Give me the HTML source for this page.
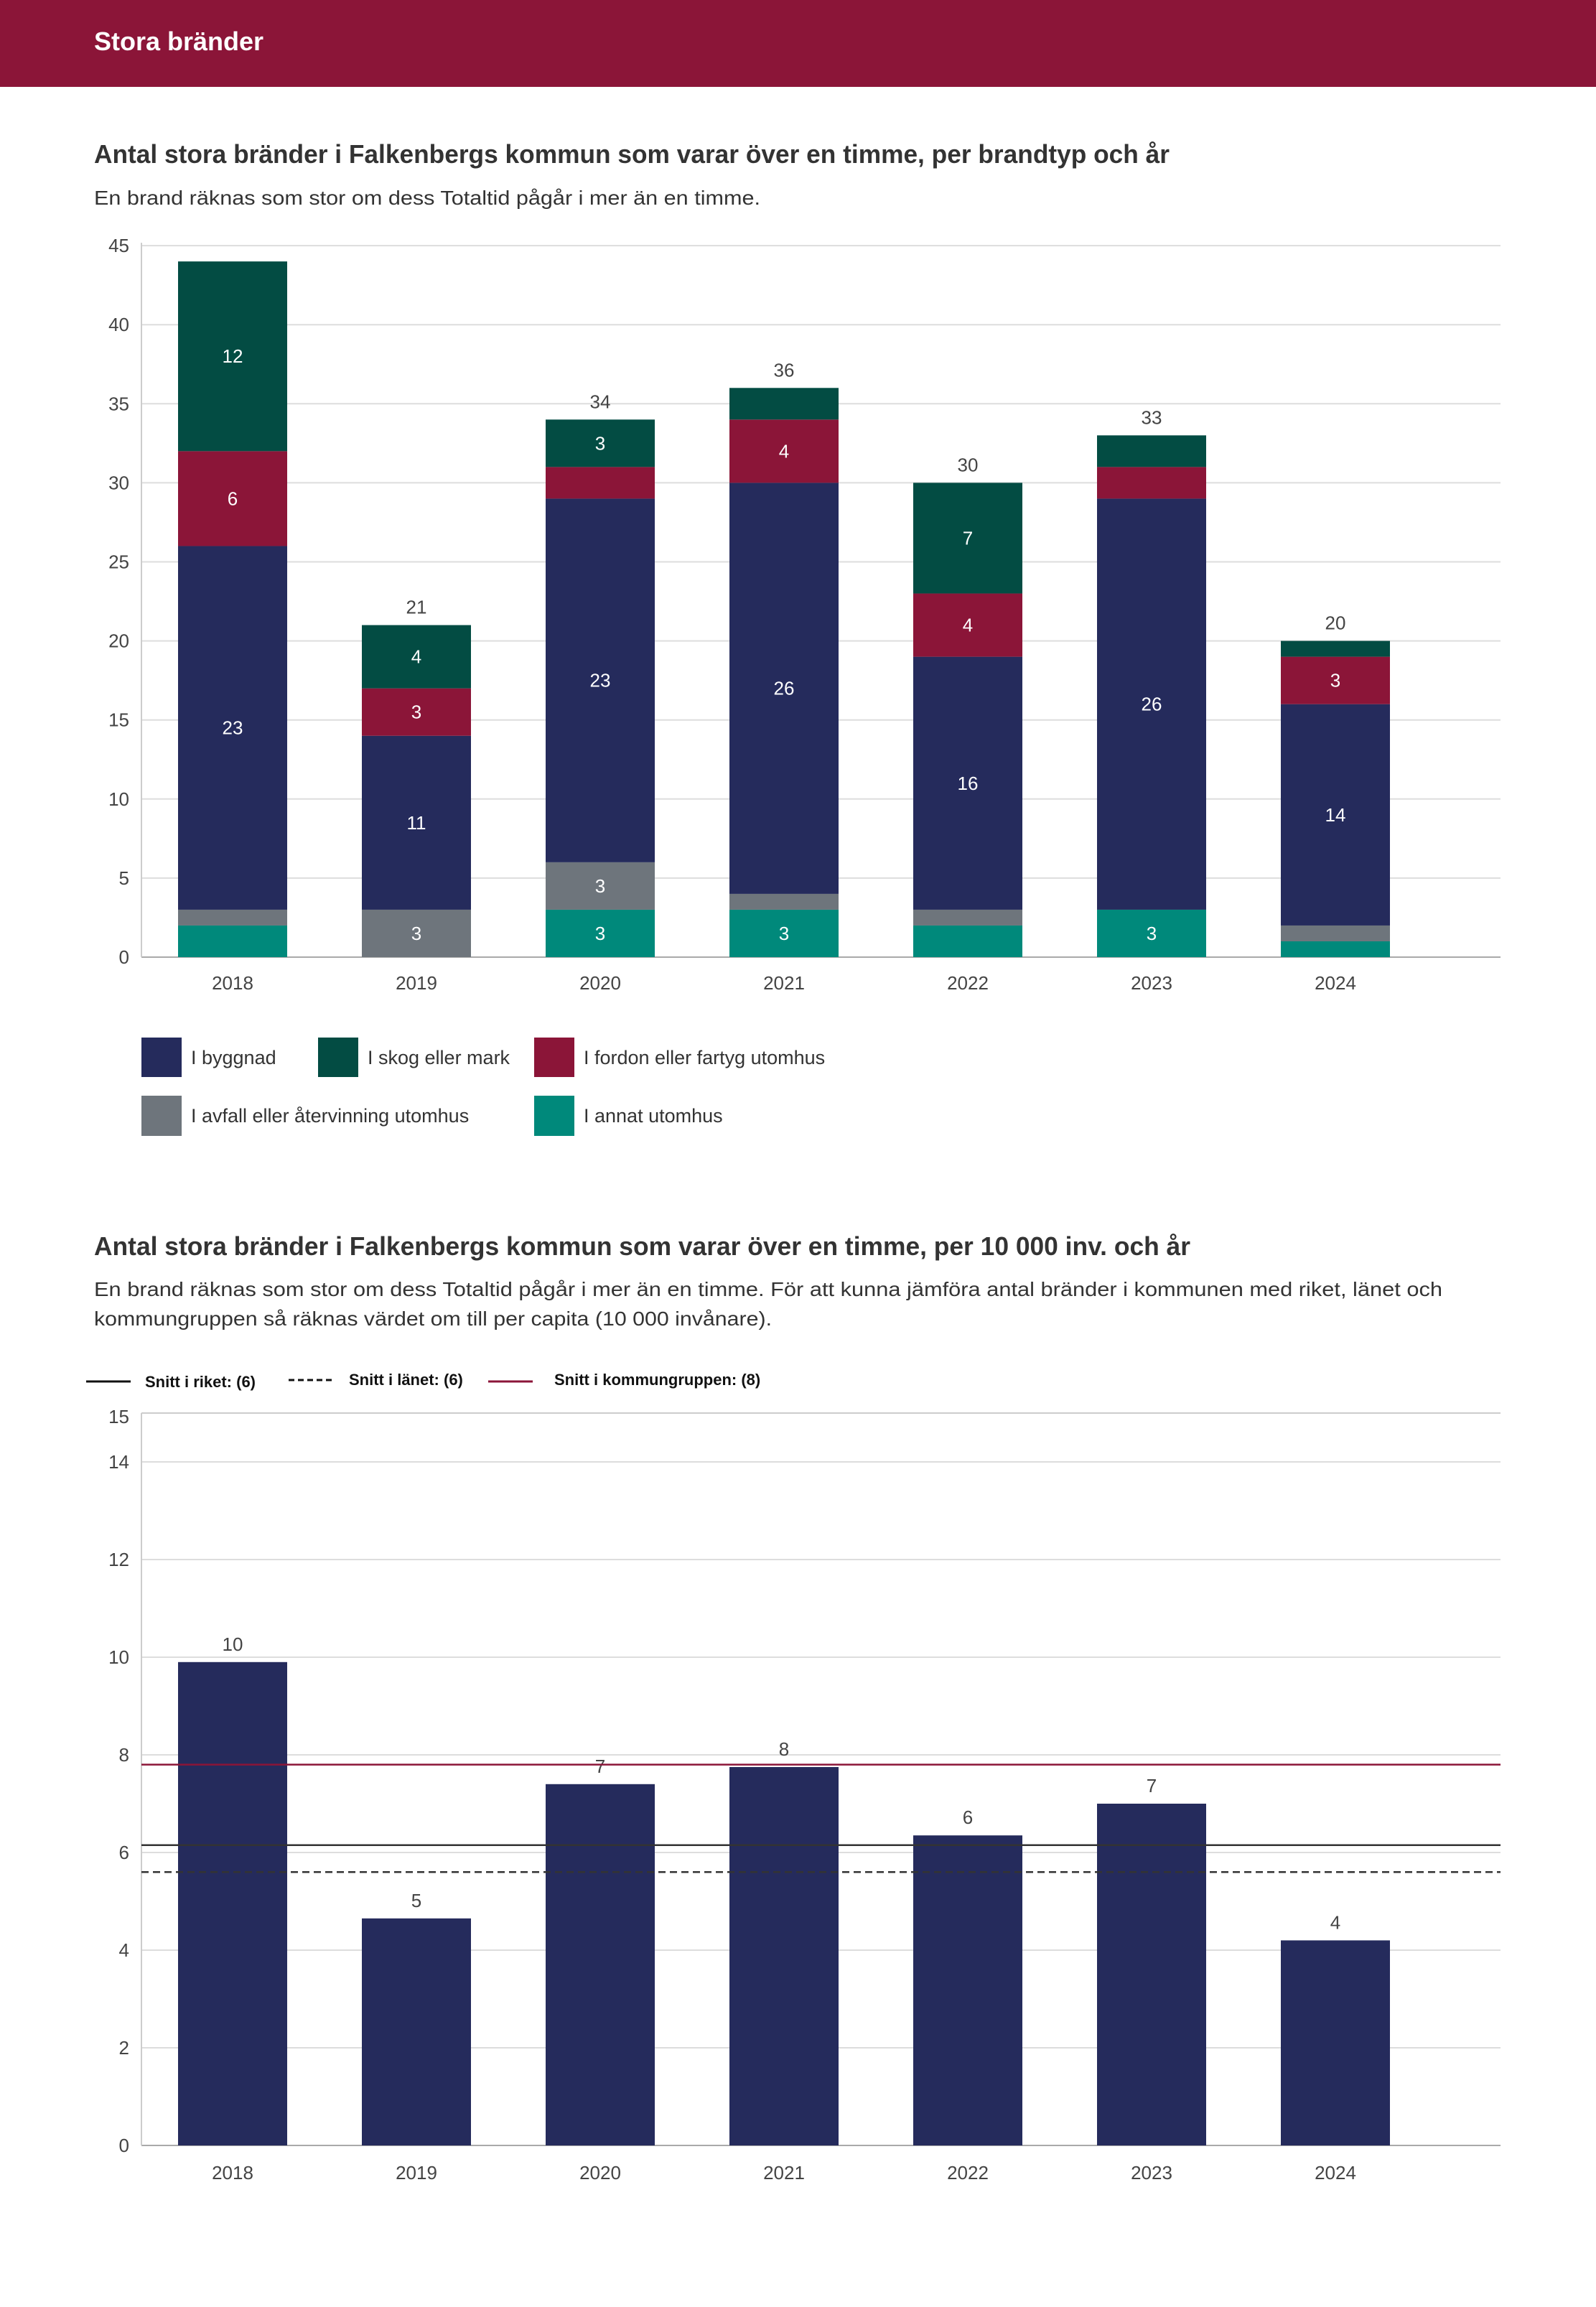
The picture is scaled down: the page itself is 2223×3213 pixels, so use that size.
<!DOCTYPE html>
<html><head><meta charset="utf-8"><style>body{margin:0;background:#fff}svg{display:block}text{font-family:"Liberation Sans",sans-serif}</style></head>
<body>
<svg id="s" width="2223" height="3213" viewBox="0 0 2223 3213" xmlns="http://www.w3.org/2000/svg">
<rect x="0" y="0" width="2223" height="121" fill="#8b1538"/>
<text x="131" y="70" font-size="36" font-weight="bold" fill="#fff">Stora bränder</text>
<text x="131" y="227" font-size="36" font-weight="bold" fill="#333" textLength="1498" lengthAdjust="spacingAndGlyphs">Antal stora bränder i Falkenbergs kommun som varar över en timme, per brandtyp och år</text>
<text x="131" y="285" font-size="28" fill="#333" textLength="928" lengthAdjust="spacingAndGlyphs">En brand räknas som stor om dess Totaltid pågår i mer än en timme.</text>
<g id="c1"></g>
<g>
<rect x="197" y="1445" width="56" height="55" fill="#252b5c"/>
<text x="266" y="1482" font-size="27" fill="#333">I byggnad</text>
<rect x="443" y="1445" width="56" height="55" fill="#034c43"/>
<text x="512" y="1482" font-size="27" fill="#333">I skog eller mark</text>
<rect x="744" y="1445" width="56" height="55" fill="#8b1538"/>
<text x="813" y="1482" font-size="27" fill="#333">I fordon eller fartyg utomhus</text>
<rect x="197" y="1526" width="56" height="56" fill="#6e757c"/>
<text x="266" y="1563" font-size="27" fill="#333">I avfall eller återvinning utomhus</text>
<rect x="744" y="1526" width="56" height="56" fill="#00897b"/>
<text x="813" y="1563" font-size="27" fill="#333">I annat utomhus</text>
</g>
<text x="131" y="1748" font-size="36" font-weight="bold" fill="#333" textLength="1527" lengthAdjust="spacingAndGlyphs">Antal stora bränder i Falkenbergs kommun som varar över en timme, per 10 000 inv. och år</text>
<text x="131" y="1805" font-size="28" fill="#333" textLength="1878" lengthAdjust="spacingAndGlyphs">En brand räknas som stor om dess Totaltid pågår i mer än en timme. För att kunna jämföra antal bränder i kommunen med riket, länet och</text>
<text x="131" y="1846" font-size="28" fill="#333" textLength="944" lengthAdjust="spacingAndGlyphs">kommungruppen så räknas värdet om till per capita (10 000 invånare).</text>
<g>
<line x1="120" y1="1924" x2="182" y2="1924" stroke="#111" stroke-width="3"/>
<text x="202" y="1932" font-size="22" font-weight="bold" fill="#111">Snitt i riket: (6)</text>
<line x1="402" y1="1922" x2="464" y2="1922" stroke="#111" stroke-width="3" stroke-dasharray="8,5"/>
<text x="486" y="1929" font-size="22" font-weight="bold" fill="#111">Snitt i länet: (6)</text>
<line x1="680" y1="1924" x2="742" y2="1924" stroke="#8b1538" stroke-width="3"/>
<text x="772" y="1929" font-size="22" font-weight="bold" fill="#111">Snitt i kommungruppen: (8)</text>
</g>
<g id="c2"></g>
</svg>
<script>
const years = ["2018","2019","2020","2021","2022","2023","2024"];
const annat = [2,0,3,3,2,3,1];
const avfall = [1,3,3,1,1,0,1];
const byggnad = [23,11,23,26,16,26,14];
const fordon = [6,3,2,4,4,2,3];
const skog = [12,4,3,2,7,2,1];
const ticks1 = [0,5,10,15,20,25,30,35,40,45];
const perCapita = [9.9,4.65,7.4,7.75,6.35,7.0,4.2];
const perCapitaLabels = ["10","5","7","8","6","7","4"];
const ticks2 = [0,2,4,6,8,10,12,14,15];
const riket = 6.15;
const lanet = 5.6;
const kommungrupp = 7.8;

const NS="http://www.w3.org/2000/svg";
function mk(tag,attrs,parent,txt){const e=document.createElementNS(NS,tag);for(const k in attrs)e.setAttribute(k,attrs[k]);if(txt!==undefined)e.textContent=txt;parent.appendChild(e);return e;}
const L=197,R=2090,step=256,x0=324,bw=152;
function xc(i){return x0+i*step;}

// chart 1
const c1=document.getElementById('c1');
const y1=v=>1333-v*22.02;
ticks1.forEach(t=>{
  const g=mk('line',{x1:L,x2:R,y1:y1(t),y2:y1(t),stroke:t===0?'#aaa':'#ddd','stroke-width':2},c1);
  
  
  const tl=mk('text',{x:180,y:y1(t)+9,'font-size':26,fill:'#444','text-anchor':'end'},c1,String(t));
  
  
});
const ax1=mk('line',{x1:L,x2:L,y1:y1(45)-4,y2:y1(0),stroke:'#ccc','stroke-width':2},c1);


const series=[["annat",annat,"#00897b"],["avfall",avfall,"#6e757c"],["byggnad",byggnad,"#252b5c"],["fordon",fordon,"#8b1538"],["skog",skog,"#034c43"]];
years.forEach((yr,i)=>{
  let acc=0;
  series.forEach(([nm,arr,col])=>{
    const v=arr[i]; if(!v)return;
    const r=mk('rect',{x:xc(i)-bw/2,y:y1(acc+v),width:bw,height:y1(acc)-y1(acc+v),fill:col},c1);
    
    
    if(v>=3){const t=mk('text',{x:xc(i),y:(y1(acc)+y1(acc+v))/2+9,'font-size':26,fill:'#fff','text-anchor':'middle'},c1,String(v));
      
      }
    acc+=v;
  });
  if(acc<=ticks1[ticks1.length-1]-2){const t=mk('text',{x:xc(i),y:y1(acc)-16,'font-size':26,fill:'#444','text-anchor':'middle'},c1,String(acc));
    
    }
  const xl=mk('text',{x:xc(i),y:1378,'font-size':26,fill:'#444','text-anchor':'middle'},c1,yr);
  
  
});

// chart 2
const c2=document.getElementById('c2');
const y2=v=>2988-v*68;
ticks2.forEach(t=>{
  const g=mk('line',{x1:L,x2:R,y1:y2(t),y2:y2(t),stroke:t===0?'#aaa':(t===15?'#ccc':'#ddd'),'stroke-width':2},c2);
  
  
  const tl=mk('text',{x:180,y:y2(t)+(t===15?14:9),'font-size':26,fill:'#444','text-anchor':'end'},c2,String(t));
  
  
});
const ax2=mk('line',{x1:L,x2:L,y1:y2(15),y2:y2(0),stroke:'#ccc','stroke-width':2},c2);


years.forEach((yr,i)=>{
  const r=mk('rect',{x:xc(i)-bw/2,y:y2(perCapita[i]),width:bw,height:y2(0)-y2(perCapita[i]),fill:'#252b5c'},c2);
  
  
  const t=mk('text',{x:xc(i),y:y2(perCapita[i])-16,'font-size':26,fill:'#444','text-anchor':'middle'},c2,perCapitaLabels[i]);
  
  
  const xl=mk('text',{x:xc(i),y:3035,'font-size':26,fill:'#444','text-anchor':'middle'},c2,yr);
  
  
});
const lr=mk('line',{x1:L,x2:R,y1:y2(riket),y2:y2(riket),stroke:'#333','stroke-width':2.5},c2);


const ll=mk('line',{x1:L,x2:R,y1:y2(lanet),y2:y2(lanet),stroke:'#333','stroke-width':2.5,'stroke-dasharray':'10,6'},c2);


const lk=mk('line',{x1:L,x2:R,y1:y2(kommungrupp),y2:y2(kommungrupp),stroke:'#8b1538','stroke-width':2.5},c2);


</script>
</body></html>
